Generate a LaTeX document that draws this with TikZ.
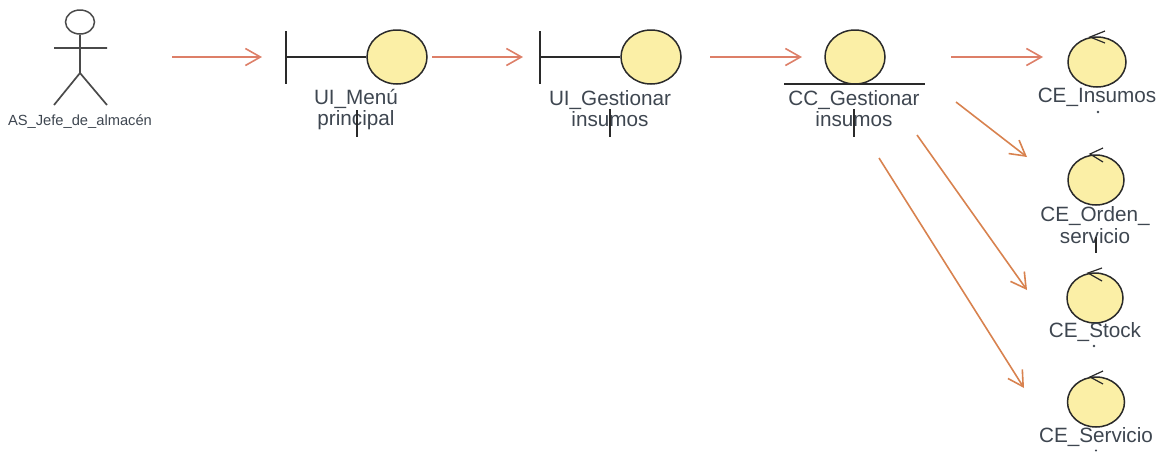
\documentclass[tikz,border=0pt]{standalone}
\usepackage{fontspec}
\setmainfont{Liberation Sans}
\usetikzlibrary{shapes.geometric,arrows.meta}
\definecolor{robofill}{HTML}{FBEFA6}
\definecolor{robolne}{HTML}{2A2A2A}
\definecolor{actorlne}{HTML}{4A4A4A}
\definecolor{msgred}{HTML}{DD7F68}
\definecolor{msgorg}{HTML}{D8824F}
\definecolor{lbl}{HTML}{3E4650}
\tikzset{
  robo/.style={draw=robolne,line width=1.5pt,fill=robofill,ellipse,inner sep=0pt,minimum width=#1},
  robo/.default=60pt,
  lab/.style={text=lbl,align=center,inner sep=0pt,font=\fontsize{20.7}{21.5}\selectfont},
  lne/.style={draw=robolne,line width=1.5pt},
  tick/.style={draw=robolne,line width=1.2pt},
  msg/.style={draw=msgred,line width=1.6pt,-{Straight Barb[length=15pt,width=17pt,line width=1.6pt]}},
  msgd/.style={draw=msgorg,line width=1.6pt,-{Straight Barb[length=15pt,width=17pt,line width=1.6pt]}}
}
\begin{document}
\begin{tikzpicture}[x=1pt,y=-1pt]
\useasboundingbox (0,0) rectangle (1165,451);
% actor
\node[ellipse,draw=actorlne,line width=1.5pt,inner sep=0pt,minimum width=29pt,minimum height=24pt] (head) at (80,22) {};
\coordinate (hip) at (80,73);
\coordinate (armL) at (54,48);
\coordinate (armR) at (107,48);
\coordinate (footL) at (54,105);
\coordinate (footR) at (107,105);
\draw[lne,draw=actorlne,line width=1.7pt] (head.south) -- (hip) (armL) -- (armR) (hip) -- (footL) (hip) -- (footR);
\node[text=lbl,inner sep=0pt,font=\fontsize{14.7}{16}\selectfont] (actorlab) at (80,122) {AS\_Jefe\_de\_almacén};
% boundary 1
\node[robo,minimum height=54pt] (b1) at (397,57) {};
\coordinate (b1t) at (286,31); \coordinate (b1b) at (286,84); \coordinate (b1m) at (286,57);
\draw[lne] (b1t) -- (b1b) (b1m) -- (b1.west);
\node[lab] (b1lab) at (356,109.5) {UI\_Menú\\principal};
\coordinate (b1x) at (357,110); \coordinate (b1y) at (357,137);
\draw[tick] (b1x) -- (b1y);
% boundary 2
\node[robo,minimum height=54pt] (b2) at (651,57) {};
\coordinate (b2t) at (540,31); \coordinate (b2b) at (540,84); \coordinate (b2m) at (540,57);
\draw[lne] (b2t) -- (b2b) (b2m) -- (b2.west);
\node[lab] (b2lab) at (610,108.5) {UI\_Gestionar\\insumos};
\coordinate (b2x) at (610,109); \coordinate (b2y) at (610,137);
\draw[tick] (b2x) -- (b2y);
% control
\node[robo,minimum height=54pt] (c1) at (855,57) {};
\coordinate (c1l) at (784,84); \coordinate (c1r) at (925,84);
\draw[lne] (c1l) -- (c1r);
\node[lab] (c1lab) at (854,108.5) {CC\_Gestionar\\insumos};
\coordinate (c1x) at (854,109); \coordinate (c1y) at (854,137);
\draw[tick] (c1x) -- (c1y);
% entities
\node[robo=58pt,minimum height=50pt] (e1) at (1097,62) {};
\draw[tick] (1105,31) -- (1090,37) -- (1105,43);
\node[lab] (e1lab) at (1097,97.5) {CE\_Insumos};
\fill[lbl] (1098,112) circle (1.4pt);
\node[robo=56pt,minimum height=50pt] (e2) at (1096,180) {};
\draw[tick] (1103,148) -- (1090,154) -- (1103,162);
\node[lab] (e2lab) at (1095,225) {CE\_Orden\_\\servicio};
\coordinate (e2x) at (1096,237); \coordinate (e2y) at (1096,253);
\draw[tick] (e2x) -- (e2y);
\node[robo=56pt,minimum height=50pt] (e3) at (1095,298) {};
\draw[tick] (1102,268) -- (1088,273) -- (1102,281);
\node[lab] (e3lab) at (1095,332) {CE\_Stock};
\fill[lbl] (1094,346) circle (1.4pt);
\node[robo=57pt,minimum height=50pt] (e4) at (1096,402) {};
\draw[tick] (1103,371) -- (1090,377) -- (1103,384);
\node[lab] (e4lab) at (1096,437) {CE\_Servicio};
\fill[lbl] (1096,450.5) circle (1.2pt);
% messages
\coordinate (m1a) at (172,57); \coordinate (m1b) at (262,57);
\coordinate (m2a) at (432,57); \coordinate (m2b) at (523,57);
\coordinate (m3a) at (710,57); \coordinate (m3b) at (802,57);
\coordinate (m4a) at (951,57); \coordinate (m4b) at (1043,57);
\coordinate (m5a) at (956,102); \coordinate (m5b) at (1027,157);
\coordinate (m6a) at (917,135); \coordinate (m6b) at (1027,290);
\coordinate (m7a) at (879,158); \coordinate (m7b) at (1024,388);
\draw[msg] (m1a) -- (m1b);
\draw[msg] (m2a) -- (m2b);
\draw[msg] (m3a) -- (m3b);
\draw[msg] (m4a) -- (m4b);
\draw[msgd] (m5a) -- (m5b);
\draw[msgd] (m6a) -- (m6b);
\draw[msgd] (m7a) -- (m7b);
\end{tikzpicture}
\end{document}
